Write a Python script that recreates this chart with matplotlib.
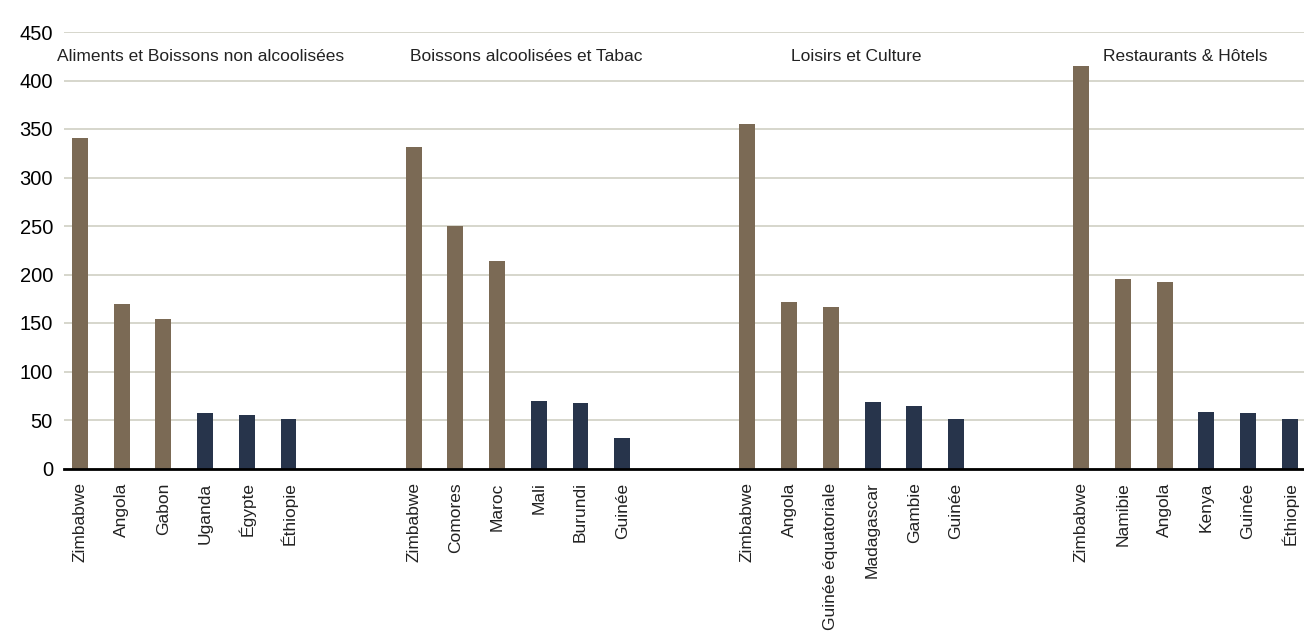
import matplotlib.pyplot as plt
import numpy as np

plt.rcParams["font.family"] = ["Liberation Sans", "DejaVu Sans"]

# --- Data --- #
groups = [
    "Aliments et Boissons non alcoolisées",
    "Boissons alcoolisées et Tabac",
    "Loisirs et Culture",
    "Restaurants & Hôtels",
]
countries = [
    ["Zimbabwe", "Angola", "Gabon", "Uganda", "Égypte", "Éthiopie"],
    ["Zimbabwe", "Comores", "Maroc", "Mali", "Burundi", "Guinée"],
    ["Zimbabwe", "Angola", "Guinée équatoriale", "Madagascar", "Gambie", "Guinée"],
    ["Zimbabwe", "Namibie", "Angola", "Kenya", "Guinée", "Éthiopie"],
]
values = [
    [341, 170, 154, 57, 55, 51],
    [331, 250, 214, 70, 68, 31],
    [355, 172, 166, 69, 64, 51],
    [415, 195, 192, 58, 57, 51],
]
# first three of each group are highest (brown), last three lowest (navy)
high = [True, True, True, False, False, False]
title_pos = [2.9, 10.7, 18.6, 26.5]

brown = "#7B6A55"
navy = "#27344B"

fig = plt.figure(figsize=(13.04, 6.32), dpi=100)
ax = fig.add_axes([64 / 1304, (632 - 468.5) / 632, 1 - 64 / 1304, (468.5 - 32) / 632])

slot = len(countries[0]) + 2
xs, labels = [], []
for g in range(len(groups)):
    pos = np.arange(len(countries[g])) + g * slot
    cols = [brown if h else navy for h in high]
    ax.bar(pos, values[g], width=0.38, color=cols, zorder=3)
    xs.extend(pos)
    labels.extend(countries[g])
    ax.text(title_pos[g], 425, groups[g], ha="center", va="center", fontsize=12.5, color="#222222")

ax.set_xticks(xs, labels, rotation=90, fontsize=12.5, color="#222222")
ax.set_xlim(-0.38, 29.34)
ax.set_ylim(0, 450)
ax.set_yticks(np.arange(0, 451, 50))
ax.tick_params(axis="y", length=0, pad=8, labelsize=14.5)
ax.tick_params(axis="x", length=0, pad=10)
ax.yaxis.grid(True, color="#CFCFC3", linewidth=1.2, zorder=0)
for s in ["top", "right", "left"]:
    ax.spines[s].set_visible(False)
ax.spines["bottom"].set_linewidth(2)
ax.spines["bottom"].set_color("black")
ax.spines["bottom"].set_zorder(4)

fig.savefig("out.png", dpi=100)
